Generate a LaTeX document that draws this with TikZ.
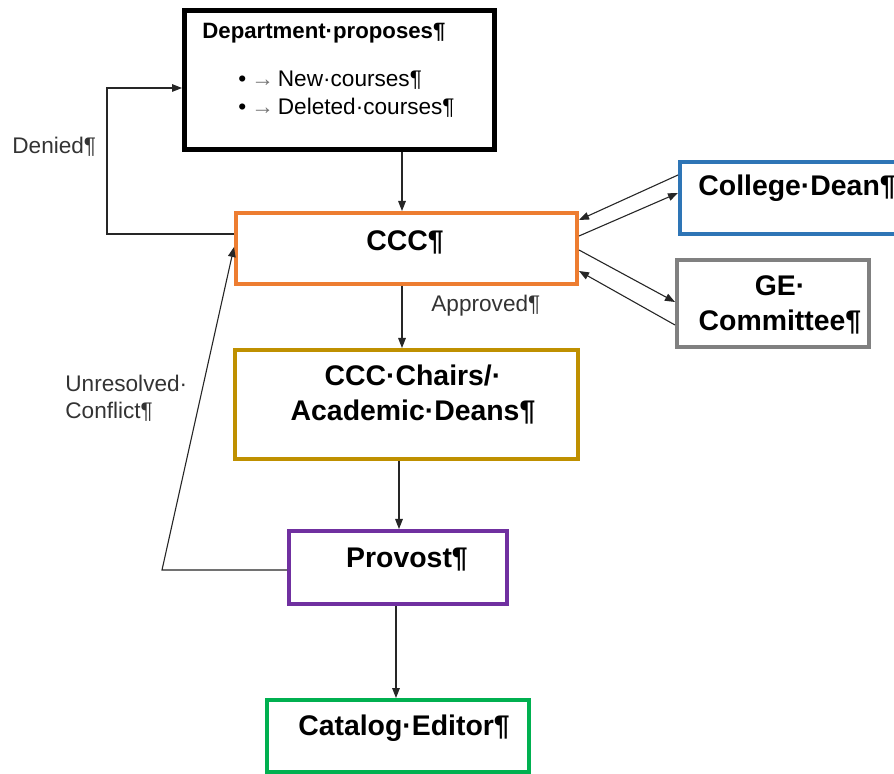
\documentclass[tikz,border=0pt]{standalone}
\usepackage{fontspec}
\setmainfont{Liberation Sans}
\usetikzlibrary{arrows.meta}
\definecolor{cccorange}{RGB}{237,125,49}
\definecolor{deanblue}{RGB}{46,117,182}
\definecolor{gegray}{RGB}{128,128,128}
\definecolor{chairgold}{RGB}{191,144,0}
\definecolor{provpurple}{RGB}{112,48,160}
\definecolor{catgreen}{RGB}{0,176,80}
\newcommand{\tabarrow}{\hspace{2.5pt}{\color{black!55}→}\hspace{2pt}}
\begin{document}
\begin{tikzpicture}[x=0.5pt,y=-0.5pt,
  box/.style={draw,line width=2pt,inner sep=0pt,fill=white},
  boxtext/.style={font=\fontsize{14.2}{17.5}\selectfont\bfseries,align=center,inner sep=0pt},
  lbl/.style={font=\fontsize{11.3}{13.5}\selectfont,text=black!80,inner sep=0pt,align=left},
  flow/.style={draw=black!85,line width=0.55pt,-{Triangle[length=5pt,width=3.8pt]}}]
\useasboundingbox (0,0) rectangle (894,774);
\node[box,line width=2.5pt,minimum width=155pt,minimum height=69.5pt] (dept) at (339.5,80) {};
\node[box,draw=cccorange,minimum width=170.5pt,minimum height=35.5pt] (ccc) at (406.5,248.5) {};
\node[box,draw=deanblue,minimum width=114pt,minimum height=36pt] (dean) at (794,198) {};
\node[box,draw=gegray,minimum width=96pt,minimum height=43.5pt] (ge) at (773,303.5) {};
\node[box,draw=chairgold,minimum width=171.5pt,minimum height=54.5pt] (chairs) at (406.5,404.5) {};
\node[box,draw=provpurple,minimum width=109pt,minimum height=36.5pt] (provost) at (398,567.5) {};
\node[box,draw=catgreen,minimum width=131pt,minimum height=36pt] (catalog) at (398,736) {};
\node[font=\fontsize{11.1}{13}\selectfont\bfseries,anchor=west,inner sep=0pt] (depttitle) at (202,33) {Department·proposes¶};
\node[lbl,text=black,anchor=west] (newcourses) at (238,80) {•\tabarrow New·courses¶};
\node[lbl,text=black,anchor=west] (delcourses) at (238,108) {•\tabarrow Deleted·courses¶};
\node[boxtext] (ccctext) at (405,242) {CCC¶};
\node[boxtext,anchor=west] (deantext) at (698,188) {College·Dean¶};
\node[boxtext] (getext) at (780,305) {GE·\\Committee¶};
\node[boxtext] (chairstext) at (413,395) {CCC·Chairs/·\\Academic·Deans¶};
\node[boxtext] (provtext) at (407,560) {Provost¶};
\node[boxtext] (cattext) at (404,728) {Catalog·Editor¶};
\node[lbl,anchor=west] (denied) at (12,147) {Denied¶};
\node[lbl,anchor=west] (approved) at (431,306) {Approved¶};
\node[lbl,anchor=west] (unresolved) at (65,398) {Unresolved·\\Conflict¶};
\coordinate (spineA) at (402,0);
\coordinate (spineB) at (399,0);
\coordinate (spineC) at (396,0);
\coordinate (denycorner) at (107,88);
\coordinate (unres) at (162,570);
\draw[flow] (dept.south -| spineA) -- (ccc.north -| spineA);
\draw[flow] (ccc.south -| spineA) -- (chairs.north -| spineA);
\draw[flow] (chairs.south -| spineB) -- (provost.north -| spineB);
\draw[flow] (provost.south -| spineC) -- (catalog.north -| spineC);
\draw[flow] (ccc.west |- 0,234) -| (denycorner) -- (dept.west |- denycorner);
\draw[flow] (provost.west |- unres) -- (unres) -- (ccc.west |- 0,247);
\draw[flow] (dean.west |- 0,175) -- (ccc.east |- 0,220);
\draw[flow] (ccc.east |- 0,236) -- (dean.west |- 0,193);
\draw[flow] (ccc.east |- 0,250) -- (ge.west |- 0,302);
\draw[flow] (ge.west |- 0,325) -- (ccc.east |- 0,271);
\end{tikzpicture}
\end{document}
